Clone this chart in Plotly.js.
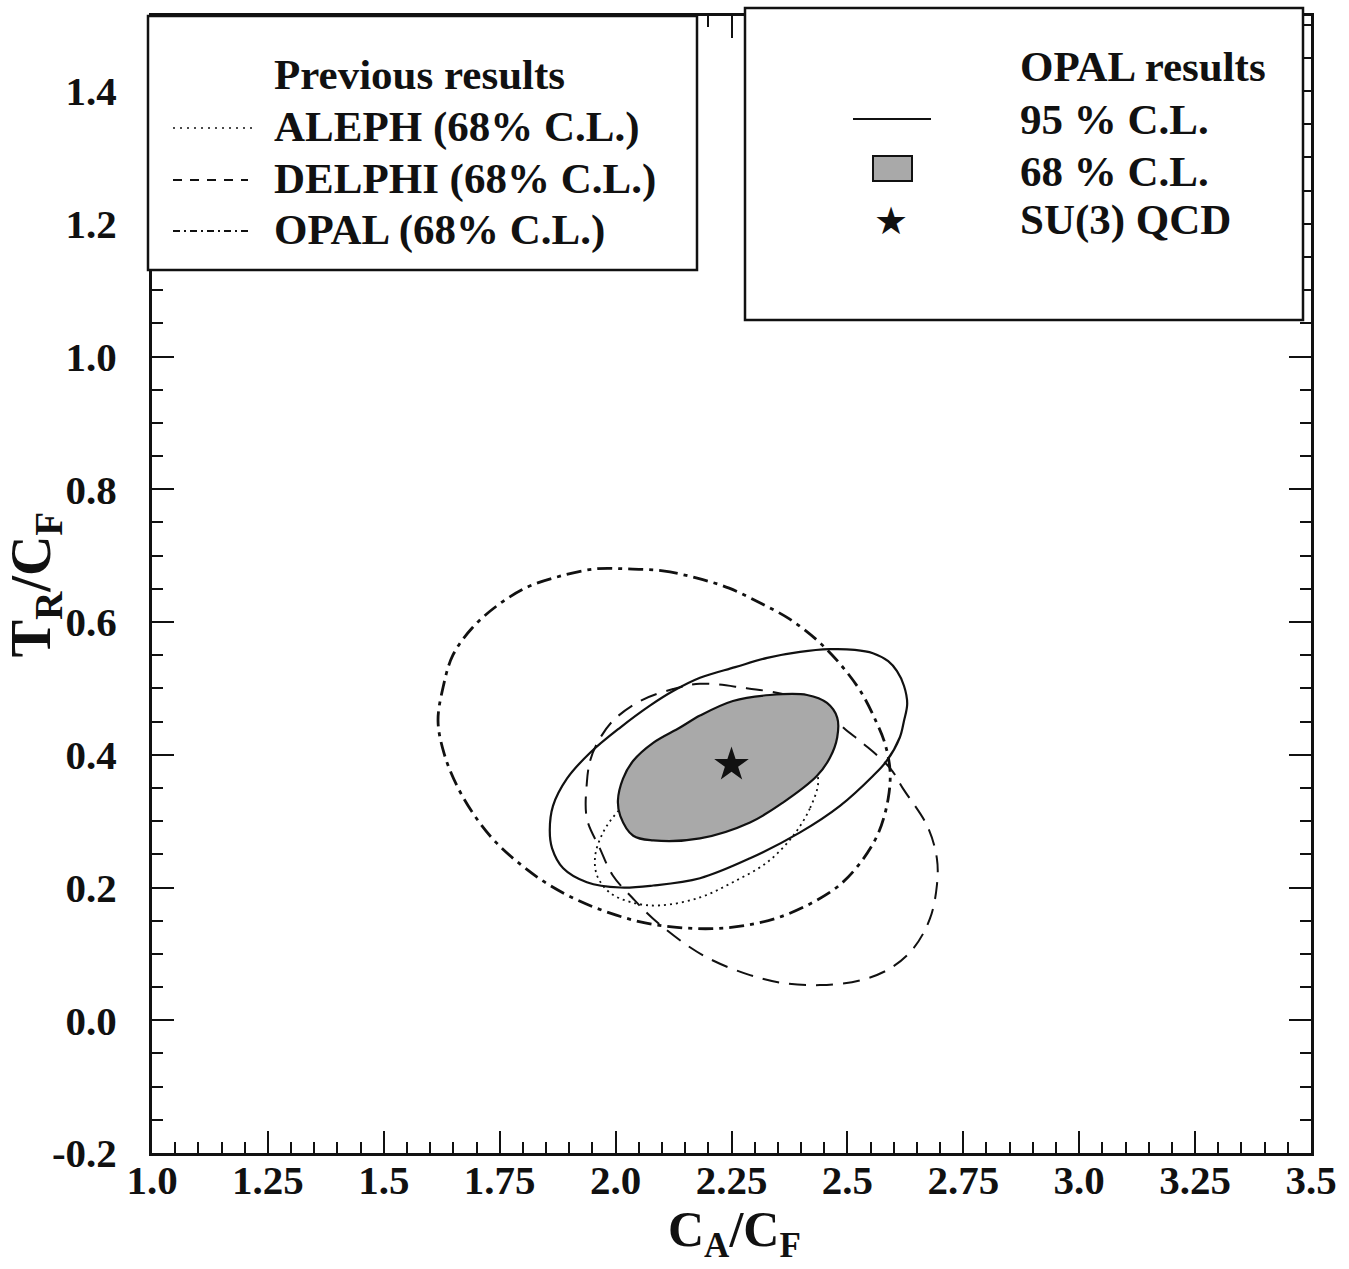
<!DOCTYPE html>
<html>
<head>
<meta charset="utf-8">
<script src="https://cdn.plot.ly/plotly-3.0.1.min.js"></script>
<style>
  html, body { margin: 0; padding: 0; background: #ffffff; }
  #chart { width: 1349px; height: 1269px; }
</style>
</head>
<body>
<div id="chart"></div>
<script>
// ---------------- data ----------------
// x = C_A/C_F, y = T_R/C_F

// OPAL previous result (68% C.L.), dash-dot contour
const opalPrevX = [2.027, 2.102, 2.176, 2.245, 2.311, 2.374, 2.434, 2.484, 2.529, 2.562, 2.581, 2.592, 2.588, 2.568, 2.532, 2.482, 2.421, 2.352, 2.281, 2.208, 2.132, 2.061, 1.990, 1.921, 1.854, 1.798, 1.742, 1.697, 1.658, 1.630, 1.617, 1.628, 1.649, 1.692, 1.749, 1.811, 1.880, 1.956, 2.027];
const opalPrevY = [0.680, 0.677, 0.666, 0.651, 0.629, 0.605, 0.573, 0.537, 0.495, 0.450, 0.417, 0.376, 0.334, 0.284, 0.241, 0.203, 0.176, 0.155, 0.143, 0.138, 0.140, 0.147, 0.161, 0.180, 0.205, 0.233, 0.268, 0.307, 0.353, 0.402, 0.451, 0.502, 0.550, 0.592, 0.627, 0.653, 0.669, 0.680, 0.680];

// DELPHI (68% C.L.), dashed contour
const delphiX = [1.938, 1.945, 1.960, 1.994, 2.053, 2.124, 2.182, 2.275, 2.376, 2.452, 2.491, 2.534, 2.592, 2.620, 2.672, 2.693, 2.693, 2.678, 2.642, 2.592, 2.527, 2.441, 2.361, 2.290, 2.210, 2.154, 2.081, 2.038, 1.994, 1.966, 1.938, 1.938];
const delphiY = [0.358, 0.391, 0.417, 0.451, 0.481, 0.499, 0.507, 0.501, 0.489, 0.469, 0.441, 0.417, 0.380, 0.349, 0.293, 0.244, 0.203, 0.153, 0.108, 0.078, 0.060, 0.053, 0.056, 0.068, 0.090, 0.113, 0.153, 0.183, 0.218, 0.259, 0.304, 0.358];

// ALEPH (68% C.L.), dotted contour (upper part hidden under the shaded area)
const alephX = [2.437, 2.419, 2.383, 2.327, 2.253, 2.182, 2.096, 2.038, 1.988, 1.960, 1.956, 1.973, 2.003, 2.053, 2.160, 2.290, 2.398, 2.430, 2.437];
const alephY = [0.358, 0.319, 0.278, 0.238, 0.208, 0.185, 0.173, 0.177, 0.192, 0.218, 0.248, 0.283, 0.313, 0.346, 0.383, 0.403, 0.398, 0.379, 0.358];

// OPAL results, 68% C.L. (shaded)
const opal68X = [2.005, 2.016, 2.038, 2.081, 2.139, 2.182, 2.253, 2.333, 2.413, 2.456, 2.478, 2.478, 2.462, 2.434, 2.361, 2.290, 2.182, 2.081, 2.038, 2.010, 2.005];
const opal68Y = [0.331, 0.364, 0.391, 0.418, 0.441, 0.459, 0.481, 0.490, 0.490, 0.478, 0.456, 0.426, 0.395, 0.368, 0.328, 0.298, 0.274, 0.271, 0.278, 0.308, 0.331];

// OPAL results, 95% C.L. (solid)
const opal95X = [1.858, 1.865, 1.895, 1.945, 2.010, 2.074, 2.124, 2.182, 2.258, 2.327, 2.398, 2.462, 2.516, 2.555, 2.588, 2.607, 2.622, 2.629, 2.622, 2.613, 2.585, 2.555, 2.484, 2.398, 2.290, 2.182, 2.081, 2.010, 1.938, 1.887, 1.863, 1.858];
const opal95Y = [0.286, 0.323, 0.364, 0.403, 0.441, 0.474, 0.496, 0.516, 0.532, 0.546, 0.555, 0.559, 0.558, 0.553, 0.541, 0.526, 0.504, 0.477, 0.451, 0.426, 0.391, 0.368, 0.323, 0.283, 0.244, 0.214, 0.203, 0.200, 0.208, 0.229, 0.259, 0.286];

// SU(3) QCD expectation
const su3X = [2.25];
const su3Y = [0.385];

// tick labels
const xTickVals = [1.0, 1.25, 1.5, 1.75, 2.0, 2.25, 2.5, 2.75, 3.0, 3.25, 3.5];
const xTickText = ["1.0", "1.25", "1.5", "1.75", "2.0", "2.25", "2.5", "2.75", "3.0", "3.25", "3.5"];
const yTickVals = [-0.2, 0.0, 0.2, 0.4, 0.6, 0.8, 1.0, 1.2, 1.4];
const yTickText = ["-0.2", "0.0", "0.2", "0.4", "0.6", "0.8", "1.0", "1.2", "1.4"];

// axis titles and legend texts
const xTitle = "C<sub>A</sub>/C<sub>F</sub>";
const yTitle = "T<sub>R</sub>/C<sub>F</sub>";
const prevTitle = "Previous results";
const prevLabels = ["ALEPH (68% C.L.)", "DELPHI (68% C.L.)", "OPAL (68% C.L.)"];
const opalTitle = "OPAL results";
const opalLabels = ["95 % C.L.", "68 % C.L.", "SU(3) QCD"];

// ---------------- layout helpers (pixel -> paper) ----------------
const W = 1349, H = 1269;
const L = 152, R = 1311, T = 16, B = 1153;
const pxX = v => (v - L) / (R - L);
const pxY = v => (B - v) / (B - T);

const serif = "Liberation Serif, Times New Roman, serif";
const ink = "#111111";
const shade = "#a9a9a9";

const traces = [
  { x: opalPrevX, y: opalPrevY, mode: "lines", type: "scatter",
    line: { color: ink, width: 2.8, dash: "15px,6px,4px,6px", shape: "spline", smoothing: 1 },
    hoverinfo: "skip", showlegend: false },
  { x: delphiX, y: delphiY, mode: "lines", type: "scatter",
    line: { color: ink, width: 2, dash: "17px,10px", shape: "spline", smoothing: 1 },
    hoverinfo: "skip", showlegend: false },
  { x: alephX, y: alephY, mode: "lines", type: "scatter",
    line: { color: ink, width: 1.8, dash: "2px,4px", shape: "spline", smoothing: 1 },
    hoverinfo: "skip", showlegend: false },
  { x: opal68X, y: opal68Y, mode: "lines", type: "scatter", fill: "toself",
    fillcolor: shade,
    line: { color: ink, width: 2.2, shape: "spline", smoothing: 1 },
    hoverinfo: "skip", showlegend: false },
  { x: opal95X, y: opal95Y, mode: "lines", type: "scatter",
    line: { color: ink, width: 2.2, shape: "spline", smoothing: 1 },
    hoverinfo: "skip", showlegend: false },
  { x: su3X, y: su3Y, mode: "markers", type: "scatter",
    marker: { symbol: "star", size: 26, color: ink, line: { width: 0 } },
    hoverinfo: "skip", showlegend: false }
];

const boxLine = { color: ink, width: 2.5 };
const shapes = [
  // left legend box
  { type: "rect", xref: "paper", yref: "paper", layer: "above",
    x0: pxX(148), x1: pxX(697), y0: pxY(270), y1: pxY(16),
    fillcolor: "#ffffff", line: boxLine },
  // right legend box
  { type: "rect", xref: "paper", yref: "paper", layer: "above",
    x0: pxX(745), x1: pxX(1303), y0: pxY(320), y1: pxY(8),
    fillcolor: "#ffffff", line: boxLine },
  // samples, left box
  { type: "line", xref: "paper", yref: "paper", layer: "above",
    x0: pxX(173), x1: pxX(256), y0: pxY(128), y1: pxY(128),
    line: { color: ink, width: 1.6, dash: "2px,5px" } },
  { type: "line", xref: "paper", yref: "paper", layer: "above",
    x0: pxX(173), x1: pxX(248), y0: pxY(180), y1: pxY(180),
    line: { color: ink, width: 1.8, dash: "9px,8px" } },
  { type: "line", xref: "paper", yref: "paper", layer: "above",
    x0: pxX(173), x1: pxX(250), y0: pxY(231), y1: pxY(231),
    line: { color: ink, width: 1.8, dash: "7px,4px,2px,4px" } },
  // samples, right box
  { type: "line", xref: "paper", yref: "paper", layer: "above",
    x0: pxX(853), x1: pxX(931), y0: pxY(119), y1: pxY(119),
    line: { color: ink, width: 2.2 } },
  { type: "rect", xref: "paper", yref: "paper", layer: "above",
    x0: pxX(873), x1: pxX(912), y0: pxY(181), y1: pxY(156),
    fillcolor: shade, line: { color: ink, width: 2 } }
];

const legFont = { family: serif, size: 43, color: ink };
const ann = (text, xpx, ypx, font) => ({
  xref: "paper", yref: "paper", x: pxX(xpx), y: pxY(ypx),
  xanchor: "left", yanchor: "middle", showarrow: false,
  text: "<b>" + text + "</b>", font: font || legFont
});
const annotations = [
  ann(prevTitle, 272, 75),
  ann(prevLabels[0], 272, 127),
  ann(prevLabels[1], 272, 179),
  ann(prevLabels[2], 272, 230),
  ann(opalTitle, 1018, 67),
  ann(opalLabels[0], 1018, 120),
  ann(opalLabels[1], 1018, 171),
  ann(opalLabels[2], 1018, 220),
  { xref: "paper", yref: "paper", x: pxX(891), y: pxY(221),
    xanchor: "center", yanchor: "middle", showarrow: false,
    text: "\u2605", font: { family: "DejaVu Sans", size: 38, color: ink } },
  // x-axis title
  { xref: "paper", yref: "paper", x: pxX(734), y: pxY(1267),
    xanchor: "center", yanchor: "bottom", showarrow: false,
    text: "<b>" + xTitle + "</b>", font: { family: serif, size: 50, color: ink } }
];

const tickFont = { family: serif, size: 41, color: ink, weight: "bold" };

const layout = {
  width: W, height: H,
  margin: { l: L, r: W - R, t: T, b: H - B, pad: 0 },
  paper_bgcolor: "#ffffff", plot_bgcolor: "#ffffff",
  showlegend: false,
  xaxis: {
    range: [1.0, 3.5], tickmode: "array", tickvals: xTickVals, ticktext: xTickText,
    ticks: "inside", ticklen: 22, tickwidth: 2, tickcolor: ink,
    minor: { tickmode: "linear", tick0: 1.0, dtick: 0.05, ticks: "inside", ticklen: 11, tickwidth: 2, tickcolor: ink },
    showline: true, linewidth: 3, linecolor: ink, mirror: "ticks",
    showgrid: false, zeroline: false,
    tickfont: tickFont, ticklabelstandoff: -11
  },
  yaxis: {
    range: [-0.2, 1.513], tickmode: "array", tickvals: yTickVals, ticktext: yTickText,
    ticks: "inside", ticklen: 22, tickwidth: 2, tickcolor: ink,
    minor: { tickmode: "linear", tick0: 0.0, dtick: 0.05, ticks: "inside", ticklen: 11, tickwidth: 2, tickcolor: ink },
    showline: true, linewidth: 3, linecolor: ink, mirror: "ticks",
    showgrid: false, zeroline: false,
    tickfont: tickFont, ticklabelstandoff: 24,
    title: { text: "<b>" + yTitle + "</b>", font: { family: serif, size: 56, color: ink }, standoff: 2 }
  },
  shapes: shapes,
  annotations: annotations
};

Plotly.newPlot("chart", traces, layout, { staticPlot: true, displayModeBar: false });
</script>
</body>
</html>
